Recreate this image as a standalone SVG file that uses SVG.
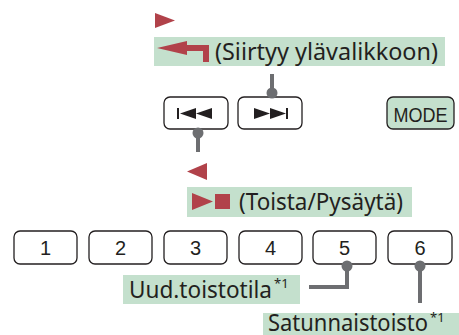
<svg xmlns="http://www.w3.org/2000/svg" width="459" height="335" viewBox="0 0 459 335">
<style>
.bg{fill:#c4e0cd}
.lbl{font-family:"Noto Sans","Open Sans",sans-serif;font-size:24px;fill:#231f20}
.sup{font-size:13px}
.btn{fill:#fff;stroke:#231f20;stroke-width:1.3}
.mode{fill:#c4e0cd;stroke:#231f20;stroke-width:1.3}
.num{font-family:"Liberation Sans",Arial,sans-serif;font-size:20px;fill:#231f20;text-anchor:middle}
.red{fill:#b1424a}
.ico{fill:#231f20}
.conn{stroke:#6d6e71;stroke-width:4;fill:none}
.dot{fill:#6d6e71}
</style>
<rect width="459" height="335" fill="#fff"/>

<g id="label-up">
<polygon class="red" points="155,13 175,20.5 155,28"/>
<rect class="bg" x="154" y="37" width="291" height="29"/>
<path class="red" d="M157,48 L187,41 L187,45 L209,45 L209,62 L203,62 L203,51 L187,51 L187,55 Z"/>
<text class="lbl" x="215" y="59.5" textLength="223" lengthAdjust="spacingAndGlyphs">(Siirtyy ylävalikkoon)</text>
</g>

<g id="btn-prev">
<rect class="btn" x="164" y="97" width="64" height="32" rx="6"/>
<rect class="ico" x="177" y="108" width="2" height="11"/>
<polygon class="ico" points="180,113.5 196,108 196,119"/>
<polygon class="ico" points="196,113.5 212,108 212,119"/>
</g>

<g id="btn-next">
<rect class="btn" x="238" y="97" width="64" height="32" rx="6"/>
<polygon class="ico" points="254,108 270,113.5 254,119"/>
<polygon class="ico" points="270,108 286,113.5 270,119"/>
<rect class="ico" x="286" y="108" width="2" height="11"/>
</g>

<g id="btn-mode">
<rect class="mode" x="387" y="97" width="67" height="32" rx="6"/>
<text class="num" x="420.5" y="121.5" font-size="18" textLength="54" lengthAdjust="spacingAndGlyphs">MODE</text>
</g>

<g id="label-play">
<polygon class="red" points="207,163 187,171.5 207,180"/>
<rect class="bg" x="187" y="187" width="225" height="30"/>
<polygon class="red" points="192,193 213,201.5 192,210"/>
<rect class="red" x="215" y="194" width="15" height="15"/>
<text class="lbl" x="239" y="209.5" textLength="164" lengthAdjust="spacingAndGlyphs">(Toista/Pysäytä)</text>
</g>

<g id="btn-1"><rect class="btn" x="14" y="231" width="63" height="33" rx="6"/><text class="num" x="45.5" y="255">1</text></g>
<g id="btn-2"><rect class="btn" x="89" y="231" width="63" height="33" rx="6"/><text class="num" x="120.5" y="255">2</text></g>
<g id="btn-3"><rect class="btn" x="164" y="231" width="63" height="33" rx="6"/><text class="num" x="195.5" y="255">3</text></g>
<g id="btn-4"><rect class="btn" x="239" y="231" width="63" height="33" rx="6"/><text class="num" x="270.5" y="255">4</text></g>
<g id="btn-5"><rect class="btn" x="313" y="231" width="63" height="33" rx="6"/><text class="num" x="344.5" y="255">5</text></g>
<g id="btn-6"><rect class="btn" x="388" y="231" width="64" height="33" rx="6"/><text class="num" x="420" y="255">6</text></g>

<g id="label-repeat">
<rect class="bg" x="123" y="275" width="177" height="29"/>
<text class="lbl" x="129" y="298"><tspan textLength="143" lengthAdjust="spacingAndGlyphs">Uud.toistotila</tspan><tspan class="sup" dx="2" dy="-10">*1</tspan></text>
</g>

<g id="label-shuffle">
<rect class="bg" x="263" y="313" width="196" height="22"/>
<text class="lbl" x="268" y="331" font-size="23"><tspan textLength="160" lengthAdjust="spacingAndGlyphs">Satunnaistoisto</tspan><tspan class="sup" dx="2" dy="-9">*1</tspan></text>
</g>

<g id="connectors">
<line class="conn" x1="272" y1="74" x2="272" y2="93"/>
<circle class="dot" cx="272" cy="93" r="5.5"/>
<line class="conn" x1="198" y1="133" x2="198" y2="152"/>
<circle class="dot" cx="198" cy="133" r="5.5"/>
<polyline class="conn" points="347,266 347,287 309,287"/>
<circle class="dot" cx="347" cy="266" r="5.5"/>
<line class="conn" x1="420" y1="266" x2="420" y2="303"/>
<circle class="dot" cx="420" cy="266" r="5.5"/>
</g>
</svg>
